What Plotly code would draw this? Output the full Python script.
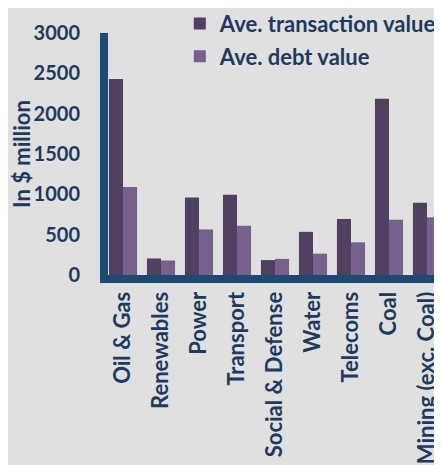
import plotly.graph_objects as go

sectors = ['Oil & Gas', 'Renewables', 'Power', 'Transport', 'Social & Defense',
           'Water', 'Telecoms', 'Coal', 'Mining (exc. Coal)']
transaction_value = [2430, 205, 960, 995, 185, 535, 695, 2185, 895]
debt_value = [1090, 180, 565, 610, 200, 265, 405, 685, 715]

navy = '#1E3A5F'
axis_blue = '#1D4A72'
font_family = 'Lato'

fig = go.Figure()
fig.add_trace(go.Bar(x=sectors, y=transaction_value, name='Ave. transaction value',
                     marker=dict(color='#514060', line=dict(width=0)),
                     legendgroup='a'))
fig.add_trace(go.Bar(x=sectors, y=debt_value, name='Ave. debt value',
                     marker=dict(color='#77608B', line=dict(width=0)),
                     legendgroup='b'))

# page body adds an 8px offset, so the figure is a bit smaller than the window
fig.update_layout(
    width=434, height=457,
    margin=dict(l=100, r=0, t=25, b=190, autoexpand=False),
    paper_bgcolor='#E0E0E0', plot_bgcolor='#E0E0E0',
    barmode='group', bargap=0.26, bargroupgap=0,
    font=dict(family=font_family, color=navy, size=22),
    legend=dict(x=0.215, xanchor='left', y=1.125, yanchor='top',
                bgcolor='rgba(0,0,0,0)', tracegroupgap=1,
                font=dict(size=22, family=font_family, color=navy, weight='bold')),
    showlegend=True,
)

fig.update_xaxes(
    range=[-0.395, 8.395], automargin=False,
    showline=True, linecolor=axis_blue, linewidth=8,
    tickangle=-90, ticks='', showgrid=False, ticklabelstandoff=0,
    tickfont=dict(size=22, family=font_family, color=navy, weight='bold'),
)
fig.update_yaxes(
    range=[0, 3000], dtick=500, automargin=False,
    showline=True, linecolor=axis_blue, linewidth=8,
    showgrid=False, zeroline=False, ticks='', ticklabelstandoff=16,
    tickfont=dict(size=20, family=font_family, color=navy, weight='bold'),
    title=dict(text='In $ million', standoff=3,
               font=dict(size=22, family=font_family, color=navy, weight='bold')),
)

fig.write_html('out.html')
